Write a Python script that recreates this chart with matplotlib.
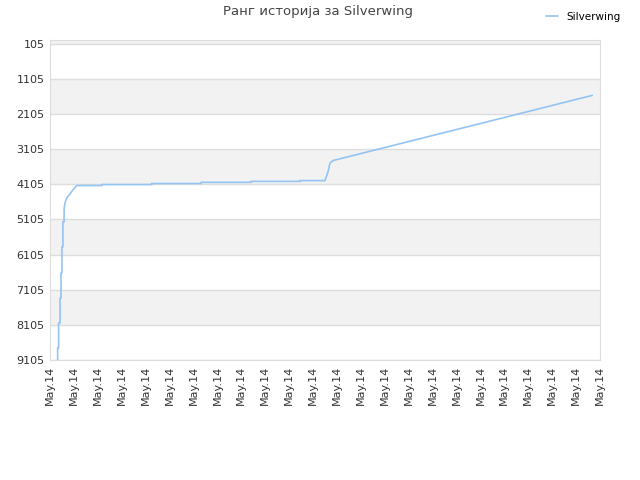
import numpy as np
import matplotlib
matplotlib.use("Agg")
import matplotlib.pyplot as plt

# rank history, x in hours of the day (all on May 14)
hours = [0.32, 0.32, 0.36, 0.36, 0.42, 0.42, 0.46, 0.46, 0.50, 0.50, 0.54, 0.54,
         0.59, 0.59, 0.63, 0.70, 0.84, 0.96, 1.12, 2.16, 2.16, 4.25, 4.25,
         6.32, 6.32, 8.41, 8.41, 10.46, 10.46, 11.50, 11.63, 11.71, 11.84, 22.67]
ranks = [9105, 8763, 8763, 8051, 8051, 7339, 7339, 6627, 6627, 5886, 5886, 5174,
         5174, 4804, 4633, 4491, 4377, 4263, 4141, 4141, 4112, 4112, 4084,
         4084, 4050, 4050, 4022, 4022, 4000, 4000, 3742, 3503, 3429, 1577]
tick_labels = ["May.14"] * 24
y_ticks = [105, 1105, 2105, 3105, 4105, 5105, 6105, 7105, 8105, 9105]
player = "Silverwing"

fig = plt.figure(figsize=(6.4, 4.8), dpi=100)
ax = fig.add_axes([50 / 640, 1 - 360 / 480, 550 / 640, 320 / 480])

# alternating bands
band_edges = [0] + y_ticks
for i in range(len(band_edges) - 1):
    if i % 2 == 0:
        ax.axhspan(band_edges[i], band_edges[i + 1], color="#f2f2f2", lw=0, zorder=0)

ax.plot(hours, ranks, color="#94c4f2", lw=1.2, label=player, zorder=3)

ax.set_xlim(0, 23)
ax.set_ylim(9105, 0)
ax.set_yticks(y_ticks)
ax.set_yticklabels([str(v) for v in y_ticks], fontsize=8, color="#333333")
ax.set_xticks(np.arange(len(tick_labels)))
ax.set_xticklabels(tick_labels, rotation=90, fontsize=8, color="#333333")
ax.tick_params(length=0, pad=4)
ax.grid(axis="y", color="#dddddd", lw=1, zorder=1)
ax.set_axisbelow(True)
for s in ax.spines.values():
    s.set_color("#dddddd")

fig.text(0.497, 0.975, "Ранг историја за " + player, ha="center", va="center",
         fontsize=9.5, color="#444444")
fig.legend(loc="upper right", bbox_to_anchor=(0.985, 0.995), frameon=False,
           fontsize=7.5, handlelength=1.2, handletextpad=0.8)

fig.savefig("out.png", dpi=100)
